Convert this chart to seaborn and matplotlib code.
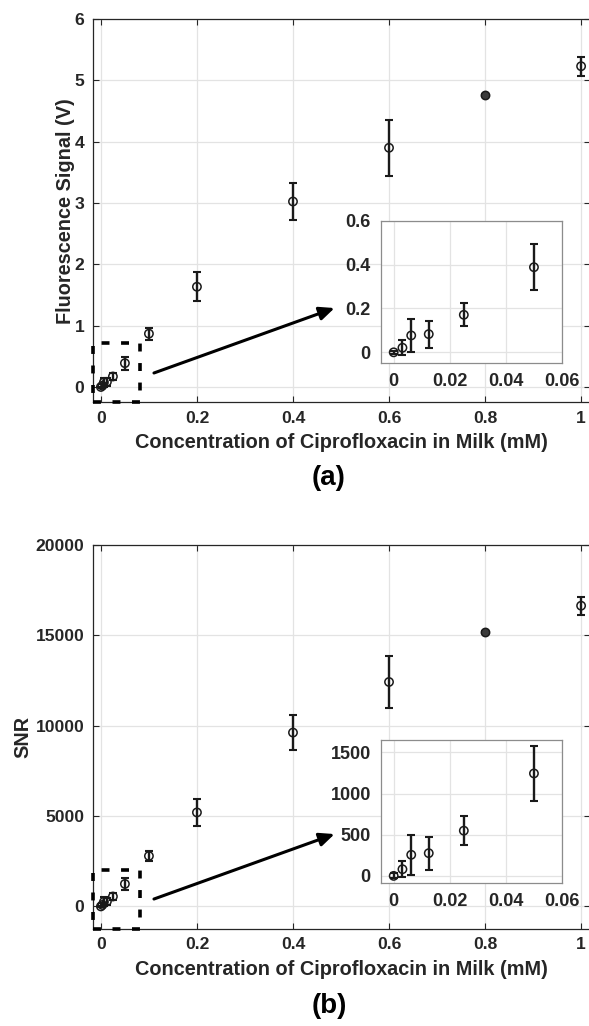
import numpy as np
import pandas as pd
import matplotlib
matplotlib.use("Agg")
import matplotlib.pyplot as plt
import seaborn as sns
from matplotlib.patches import Rectangle

# ---------------- data ----------------
conc = [0.0, 0.003125, 0.00625, 0.0125, 0.025, 0.05, 0.1, 0.2, 0.4, 0.6, 0.8, 1.0]

signal = [0.0, 0.021, 0.077, 0.083, 0.171, 0.388, 0.869, 1.634, 3.024, 3.90, 4.76, 5.23]
signal_err = [0.006, 0.033, 0.076, 0.062, 0.053, 0.105, 0.095, 0.236, 0.30, 0.456, 0.02, 0.157]

snr = [0.0, 81, 256, 276, 549, 1244, 2790, 5200, 9620, 12420, 15170, 16640]
snr_err = [30, 100, 240, 200, 173, 330, 300, 750, 950, 1450, 60, 490]

main_xticks = [0, 0.2, 0.4, 0.6, 0.8, 1.0]
main_xticklabels = ["0", "0.2", "0.4", "0.6", "0.8", "1"]
inset_xticks = [0, 0.02, 0.04, 0.06]
inset_xticklabels = ["0", "0.02", "0.04", "0.06"]
a_yticks = [0, 1, 2, 3, 4, 5, 6]
b_yticks = [0, 5000, 10000, 15000, 20000]
a_inset_yticks = [0, 0.2, 0.4, 0.6]
a_inset_yticklabels = ["0", "0.2", "0.4", "0.6"]
b_inset_yticks = [0, 500, 1000, 1500]

xlabel = "Concentration of Ciprofloxacin in Milk (mM)"
ylabel_a = "Fluorescence Signal (V)"
ylabel_b = "SNR"

df = pd.DataFrame({"conc": conc, "signal": signal, "signal_err": signal_err,
                   "snr": snr, "snr_err": snr_err})

# ---------------- style ----------------
sns.set_style("whitegrid")
plt.rcParams["font.family"] = ["Liberation Sans", "DejaVu Sans"]
plt.rcParams["font.weight"] = "bold"
TXT = "#262626"
GRID = "#e3e3e3"

fig = plt.figure(figsize=(5.89, 10.26), dpi=100)

def style_axes(ax, tick_size=12, spine_color=TXT):
    for s in ax.spines.values():
        s.set_color(spine_color)
        s.set_linewidth(0.9)
        s.set_visible(True)
    ax.set_facecolor("white")
    ax.grid(True, color=GRID, linewidth=0.9)
    ax.tick_params(direction="in", length=4, width=0.8, color=spine_color,
                   labelsize=tick_size, labelcolor=TXT, top=True, right=True,
                   bottom=True, left=True, pad=6)
    for lab in ax.get_xticklabels() + ax.get_yticklabels():
        lab.set_fontweight("bold")

def draw_points(ax, sub, ycol, ecol):
    ax.errorbar(sub["conc"], sub[ycol], yerr=sub[ecol], fmt="none",
                ecolor="#1a1a1a", elinewidth=1.7, capsize=3.2, capthick=1.5, zorder=3)
    # points whose error bar is tiny look filled in the reference
    tight = (sub[ecol] < 0.01 * sub[ycol].max()) & (sub[ycol] > 0.5 * sub[ycol].max())
    sns.scatterplot(data=sub[~tight], x="conc", y=ycol, ax=ax, marker="o", s=36,
                    facecolor="none", edgecolor="#1a1a1a", linewidth=1.1, zorder=4,
                    legend=False)
    if tight.any():
        sns.scatterplot(data=sub[tight], x="conc", y=ycol, ax=ax, marker="o", s=36,
                        color="#3a3a3a", edgecolor="#1a1a1a", linewidth=1.1, zorder=4,
                        legend=False)

def make_panel(main_rect, inset_rect, ycol, ecol, ylim, yticks, ytl,
               ylabel, ylabel_x, rect_top, arrow_start, arrow_end,
               in_ylim, in_yticks, in_ytl, tag, tag_y):
    ax = fig.add_axes(main_rect)
    draw_points(ax, df, ycol, ecol)
    ax.set_xlim(-0.0175, 1.0175)
    ax.set_ylim(*ylim)
    ax.set_xticks(main_xticks)
    ax.set_xticklabels(main_xticklabels)
    ax.set_yticks(yticks)
    ax.set_yticklabels(ytl)
    style_axes(ax, tick_size=12.6)
    ax.set_xlabel(xlabel, fontsize=14.3, fontweight="bold", color=TXT)
    ax.xaxis.set_label_coords(0.5, -0.105)
    ax.xaxis.label.set_va("center")
    ax.set_ylabel(ylabel, fontsize=14.3, fontweight="bold", color=TXT)
    ax.yaxis.set_label_coords(ylabel_x, 0.5)
    ax.yaxis.label.set_va("center")

    # dashed zoom rectangle
    x0, y0 = -0.0175, ylim[0]
    ax.add_patch(Rectangle((x0, y0), 0.081 - x0, rect_top - y0, fill=False,
                           linestyle=(0, (2.2, 3.2)), linewidth=2.6,
                           edgecolor="black", zorder=5, clip_on=False))
    # arrow
    ax.annotate("", xy=arrow_end, xytext=arrow_start,
                arrowprops=dict(arrowstyle="-|>,head_length=0.9,head_width=0.4",
                                color="black", linewidth=2.2, shrinkA=0, shrinkB=0),
                zorder=6)

    ins = fig.add_axes(inset_rect)
    sub = df[df["conc"] <= 0.05]
    draw_points(ins, sub, ycol, ecol)
    ins.set_xlim(-0.0047, 0.06)
    ins.set_ylim(*in_ylim)
    ins.set_xticks(inset_xticks)
    ins.set_xticklabels(inset_xticklabels)
    ins.set_yticks(in_yticks)
    ins.set_yticklabels(in_ytl)
    style_axes(ins, tick_size=13, spine_color="#8c8c8c")
    ins.tick_params(top=False, right=False, length=0, labelcolor=TXT, pad=7)
    ins.set_xlabel("")
    ins.set_ylabel("")

    fig.text(0.5586, tag_y, tag, ha="center", va="center", fontsize=20,
             fontweight="bold", color="black")
    return ax

W, H = 589.0, 1026.0
def rect(l, r, t, b):
    return [l / W, 1 - b / H, (r - l) / W, (b - t) / H]

make_panel(rect(92.5, 589.5, 19, 402.3), rect(380.5, 562, 220.7, 363.3),
           "signal", "signal_err", (-0.25, 6), a_yticks, [str(v) for v in a_yticks],
           ylabel_a, -0.055, 0.717, (0.1105, 0.228), (0.4866, 1.287),
           (-0.05, 0.6), a_inset_yticks, a_inset_yticklabels, "(a)", 1 - 478 / H)

make_panel(rect(92.5, 589.5, 545, 929), rect(380.5, 562, 740, 883.3),
           "snr", "snr_err", (-1250, 20000), b_yticks, [str(v) for v in b_yticks],
           ylabel_b, -0.14, 2000, (0.1105, 409), (0.4866, 4004),
           (-90, 1650), b_inset_yticks, [str(v) for v in b_inset_yticks], "(b)", 1 - 1006 / H)

fig.savefig("out.png", dpi=100, facecolor="white")
